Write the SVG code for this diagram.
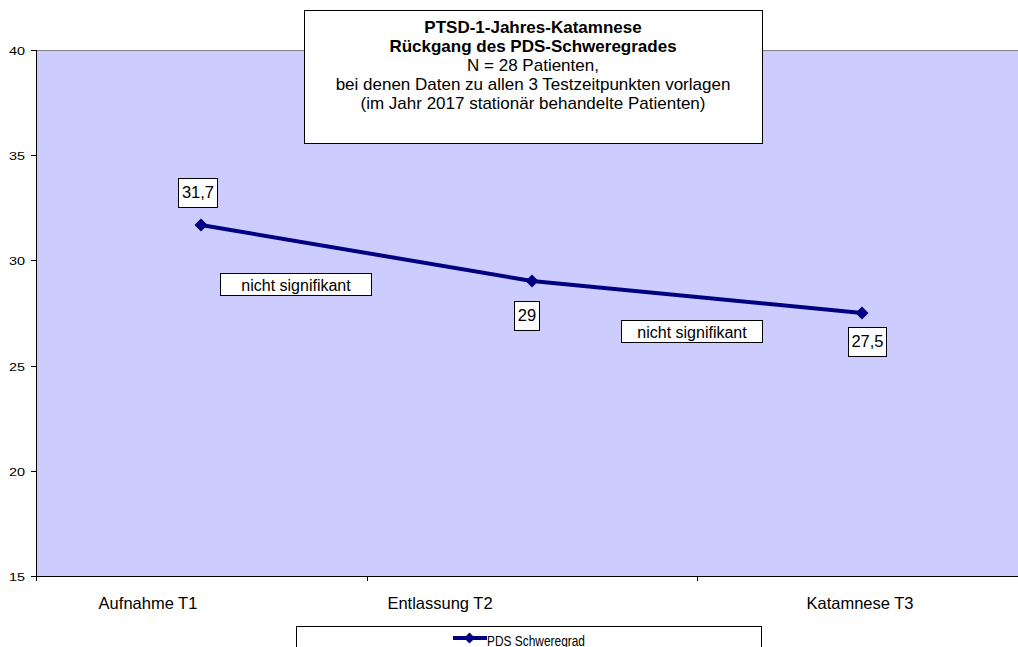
<svg xmlns="http://www.w3.org/2000/svg" width="1018" height="647" viewBox="0 0 1018 647">
<style>
text{font-family:"Liberation Sans",Arial,sans-serif;fill:#000}
.ax{font-size:11.5px}
.cat{font-size:16.5px}
.ttl{font-size:17px;text-anchor:middle}
.b{font-weight:bold}
.lbl{font-size:16.5px;text-anchor:middle}
.ns{font-size:16px;text-anchor:middle}
.box{fill:#fff;stroke:#000;stroke-width:1}
.tick{stroke:#000;stroke-width:1}
</style>
<defs>
<path id="dia" d="M0,-6.5 L6.5,0 L0,6.5 L-6.5,0Z" fill="#000080"/>
</defs>
<rect width="1018" height="647" fill="#fff"/>
<g id="plot">
<rect x="36" y="50" width="990" height="526" fill="#CCCCFF"/>
<line x1="36" y1="50.5" x2="1018" y2="50.5" stroke="#808080"/>
<line x1="36.5" y1="50" x2="36.5" y2="576" class="tick"/>
<line x1="36" y1="576.5" x2="1018" y2="576.5" class="tick"/>
<g class="tick">
<line x1="31" y1="50.5" x2="36" y2="50.5"/>
<line x1="31" y1="155.5" x2="36" y2="155.5"/>
<line x1="31" y1="260.5" x2="36" y2="260.5"/>
<line x1="31" y1="366.5" x2="36" y2="366.5"/>
<line x1="31" y1="471.5" x2="36" y2="471.5"/>
<line x1="31" y1="576.5" x2="36" y2="576.5"/>
<line x1="36.5" y1="576" x2="36.5" y2="581"/>
<line x1="367.5" y1="576" x2="367.5" y2="581"/>
<line x1="697.5" y1="576" x2="697.5" y2="581"/>
</g>
<g class="ax" text-anchor="end">
<text x="25" y="55" textLength="16" lengthAdjust="spacingAndGlyphs">40</text>
<text x="25" y="160" textLength="16" lengthAdjust="spacingAndGlyphs">35</text>
<text x="25" y="265" textLength="16" lengthAdjust="spacingAndGlyphs">30</text>
<text x="25" y="371" textLength="16" lengthAdjust="spacingAndGlyphs">25</text>
<text x="25" y="476" textLength="16" lengthAdjust="spacingAndGlyphs">20</text>
<text x="25" y="581" textLength="16" lengthAdjust="spacingAndGlyphs">15</text>
</g>
<g class="cat" text-anchor="middle">
<text x="148" y="608.5">Aufnahme T1</text>
<text x="440" y="608.5">Entlassung T2</text>
<text x="860" y="608.5">Katamnese T3</text>
</g>
</g>
<g id="connectors">
<polyline points="201,225 532,281 862,313" fill="none" stroke="#000080" stroke-width="4"/>
<use href="#dia" x="201" y="225"/>
<use href="#dia" x="532" y="281"/>
<use href="#dia" x="862" y="313"/>
</g>
<g id="title">
<rect x="304.5" y="10.5" width="458" height="133" class="box"/>
<text class="ttl b" x="533" y="33">PTSD-1-Jahres-Katamnese</text>
<text class="ttl b" x="533" y="52">Rückgang des PDS-Schweregrades</text>
<text class="ttl" x="533" y="71">N = 28 Patienten,</text>
<text class="ttl" x="533" y="90">bei denen Daten zu allen 3 Testzeitpunkten vorlagen</text>
<text class="ttl" x="533" y="109">(im Jahr 2017 stationär behandelte Patienten)</text>
</g>
<g id="label-t1">
<rect x="178.5" y="178.5" width="39" height="29" class="box"/>
<text class="lbl" x="198" y="198">31,7</text>
</g>
<g id="label-t2">
<rect x="514.5" y="301.5" width="25" height="29" class="box"/>
<text class="lbl" x="527" y="321">29</text>
</g>
<g id="label-t3">
<rect x="848.5" y="327.5" width="38" height="29" class="box"/>
<text class="lbl" x="867.5" y="347">27,5</text>
</g>
<g id="ns1">
<rect x="220.5" y="273.5" width="151" height="22" class="box"/>
<text class="ns" x="296" y="290.5">nicht signifikant</text>
</g>
<g id="ns2">
<rect x="621.5" y="320.5" width="141" height="22" class="box"/>
<text class="ns" x="692" y="337.5">nicht signifikant</text>
</g>
<g id="legend">
<rect x="296.5" y="626.5" width="465" height="30" class="box"/>
<line x1="453" y1="638" x2="487" y2="638" stroke="#000080" stroke-width="4"/>
<path d="M469.5,632.5 L475,638 L469.5,643.5 L464,638Z" fill="#000080"/>
<text x="487" y="646" font-size="14px" textLength="98" lengthAdjust="spacingAndGlyphs">PDS Schweregrad</text>
</g>
</svg>
